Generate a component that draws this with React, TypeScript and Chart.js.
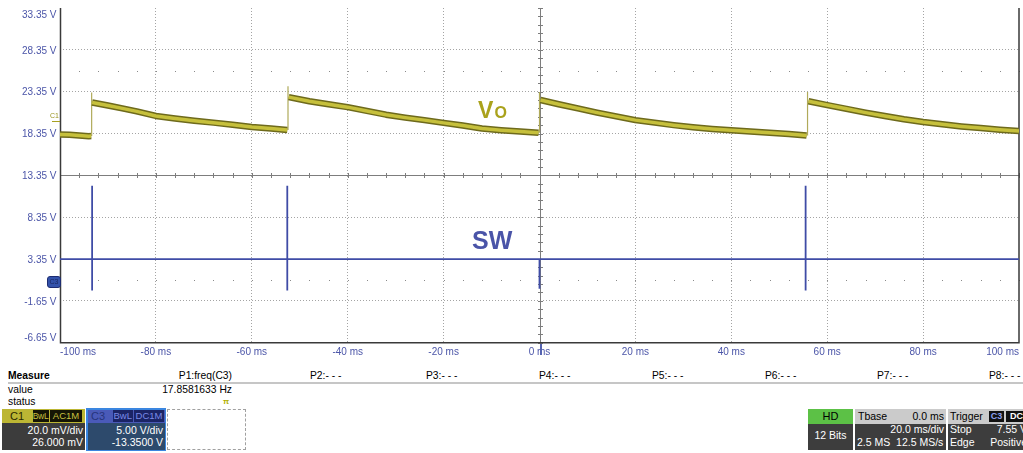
import React, { useEffect, useRef } from "react";
import { Chart, registerables } from "chart.js";
Chart.register(...registerables);

// ---------- data ----------
const xTickValues = [-100, -80, -60, -40, -20, 0, 20, 40, 60, 80, 100];
const yTickValues = [-6.65, -1.65, 3.35, 8.35, 13.35, 18.35, 23.35, 28.35, 33.35];

// Vo (C1) segments between switching events: time (ms) / volts
const voT1 = [-100, -98, -96, -94, -93.5];
const voV1 = [18.22, 18.2, 18.12, 18.02, 18.05];
const voT2 = [-93.3, -90, -87, -84, -80, -76, -72, -68, -64, -60, -56, -52.6];
const voV2 = [22.05, 21.7, 21.35, 21.0, 20.45, 20.15, 19.88, 19.65, 19.4, 19.14, 18.95, 18.78];
const voT3 = [-52.3, -48, -44, -40, -36, -32, -28, -24, -20, -16, -12, -8, -4, -0.2];
const voV3 = [22.7, 22.2, 21.85, 21.5, 21.05, 20.6, 20.25, 19.95, 19.62, 19.3, 18.95, 18.75, 18.6, 18.45];
const voT4 = [0.2, 4, 8, 12, 16, 20, 24, 28, 32, 36, 40, 44, 48, 52, 55.7];
const voV4 = [22.35, 21.85, 21.35, 20.85, 20.4, 19.95, 19.65, 19.35, 19.1, 18.9, 18.75, 18.6, 18.45, 18.3, 18.1];
const voT5 = [56.1, 60, 64, 68, 72, 76, 80, 84, 88, 92, 96, 100];
const voV5 = [22.2, 21.75, 21.3, 20.85, 20.45, 20.05, 19.72, 19.45, 19.2, 19.0, 18.8, 18.65];

// Vo jump edges
const jumpT = [-93.4, -52.45, 0, 55.9];
const jumpLow = [18.05, 18.78, 18.45, 18.1];
const jumpHigh = [23.25, 24.0, 23.3, 23.3];

// SW (C3)
const swBase = 3.35;
const swSpikeT = [-93.3, -52.6, 0, 55.5];
const swSpikeHigh = [12.1, 12.1, 3.35, 12.1];
const swSpikeLow = [-0.4, -0.4, -0.2, -0.4];

const FONT = '"Liberation Sans", Arial, sans-serif';
const LABEL_BLUE = "#4b55a8";

function buildVo() {
  const segs = [
    [voT1, voV1],
    [voT2, voV2],
    [voT3, voV3],
    [voT4, voV4],
    [voT5, voV5],
  ];
  const pts: any[] = [];
  segs.forEach(([ts, vs], i) => {
    if (i > 0) pts.push({ x: (ts[0] + pts[pts.length - 1].x) / 2, y: null });
    ts.forEach((t, j) => pts.push({ x: t, y: vs[j] }));
  });
  return pts;
}

function buildJumps() {
  const pts: any[] = [];
  jumpT.forEach((t, i) => {
    if (i > 0) pts.push({ x: t - 1, y: null });
    pts.push({ x: t, y: jumpLow[i] });
    pts.push({ x: t, y: jumpHigh[i] });
  });
  return pts;
}

function buildSw() {
  const pts: any[] = [{ x: -100, y: swBase }];
  swSpikeT.forEach((t, i) => {
    pts.push({ x: t, y: swBase });
    pts.push({ x: t, y: swSpikeHigh[i] });
    pts.push({ x: t, y: swSpikeLow[i] });
    pts.push({ x: t, y: swBase });
  });
  pts.push({ x: 100, y: swBase });
  return pts;
}

const scopePlugin = {
  id: "scope",
  beforeDatasetsDraw(chart: any) {
    const { ctx, chartArea, scales } = chart;
    const { left, right, top, bottom } = chartArea;
    const xs = scales.x;
    const ys = scales.y;
    const x0 = xs.getPixelForValue(0);
    const yc = ys.getPixelForValue(13.35);
    ctx.save();
    ctx.strokeStyle = "#7d7d7d";
    ctx.lineWidth = 1;
    ctx.beginPath();
    ctx.moveTo(Math.round(x0) + 0.5, top);
    ctx.lineTo(Math.round(x0) + 0.5, bottom);
    ctx.moveTo(left, Math.round(yc) + 0.5);
    ctx.lineTo(right, Math.round(yc) + 0.5);
    for (let k = 0; k <= 40; k++) {
      const py = Math.round(ys.getPixelForValue(-6.65 + k)) + 0.5;
      ctx.moveTo(Math.round(x0) - 2, py);
      ctx.lineTo(Math.round(x0) + 3, py);
    }
    for (let k = 0; k <= 50; k++) {
      const px = Math.round(xs.getPixelForValue(-100 + 4 * k)) + 0.5;
      ctx.moveTo(px, Math.round(yc) - 2);
      ctx.lineTo(px, Math.round(yc) + 3);
    }
    ctx.stroke();
    ctx.fillStyle = "#8a8a8a";
    [25.85, 0.85].forEach((v) => {
      const py = Math.round(ys.getPixelForValue(v));
      for (let k = 0; k <= 50; k++) {
        const px = Math.round(xs.getPixelForValue(-100 + 4 * k));
        ctx.fillRect(px, py, 1, 1);
      }
    });
    ctx.strokeStyle = "#3a3a3a";
    ctx.lineWidth = 1.5;
    ctx.beginPath();
    ctx.moveTo(left + 0.5, top);
    ctx.lineTo(left + 0.5, bottom);
    ctx.lineTo(right, bottom);
    ctx.lineTo(right, top);
    ctx.stroke();
    ctx.restore();
  },
  afterDraw(chart: any) {
    const { ctx, scales } = chart;
    const ys = scales.y;
    ctx.save();
    ctx.font = `10px ${FONT}`;
    ctx.fillStyle = LABEL_BLUE;
    ctx.textAlign = "right";
    ctx.textBaseline = "alphabetic";
    yTickValues.forEach((v) => {
      let b = ys.getPixelForValue(v) + 3.8;
      b = Math.max(b, 18.3);
      b = Math.min(b, 340.7);
      ctx.fillText(`${v.toFixed(2)} V`, 56.5, b);
    });
    ctx.restore();
  },
};

function Txt(props: any) {
  const { x, b, s = 10.4, color = "#000", bold = false, align = "left", children, w, ls } = props;
  const top = b - 0.8465 * s;
  const style: any = {
    position: "absolute",
    top,
    fontSize: s,
    lineHeight: `${s}px`,
    height: s,
    color,
    fontWeight: bold ? "bold" : "normal",
    fontFamily: FONT,
    whiteSpace: "nowrap",
    letterSpacing: ls || 0,
  };
  if (align === "right") {
    style.right = 1023 - x;
  } else if (align === "center") {
    style.left = x;
    style.width = w;
    style.textAlign = "center";
  } else {
    style.left = x;
  }
  return <div style={style}>{children}</div>;
}

function Box(props: any) {
  const { x, y, w, h, bg, children, style } = props;
  return (
    <div style={{ position: "absolute", left: x, top: y, width: w, height: h, background: bg, ...(style || {}) }}>
      {children}
    </div>
  );
}

export default function App() {
  const ref = useRef<HTMLCanvasElement>(null);
  useEffect(() => {
    const vo = buildVo();
    const chart = new Chart(ref.current as HTMLCanvasElement, {
      type: "line",
      data: {
        datasets: [
          {
            data: vo,
            borderColor: "#c6c03c",
            borderWidth: 3.5,
            pointRadius: 0,
            spanGaps: false,
            order: 0,
          },
          {
            data: vo,
            borderColor: "#6e6a1c",
            borderWidth: 6.5,
            pointRadius: 0,
            spanGaps: false,
            borderJoinStyle: "round",
            order: 1,
          },
          {
            data: buildJumps(),
            borderColor: "#b0aa5a",
            borderWidth: 1.2,
            pointRadius: 0,
            spanGaps: false,
            order: 2,
          },
          {
            data: buildSw(),
            borderColor: "#3f4ca6",
            borderWidth: 1.8,
            pointRadius: 0,
            order: 3,
          },
        ] as any,
      },
      options: {
        animation: false,
        responsive: false,
        devicePixelRatio: 1,
        events: [],
        layout: { padding: { top: 8, right: 1.5, left: 0, bottom: 0 } },
        plugins: { legend: { display: false }, tooltip: { enabled: false } },
        elements: { line: { tension: 0 } },
        scales: {
          x: {
            type: "linear",
            min: xTickValues[0],
            max: xTickValues[xTickValues.length - 1],
            afterFit: (a: any) => {
              a.height = 19.3;
            },
            ticks: {
              stepSize: 20,
              align: "inner",
              maxRotation: 0,
              autoSkip: false,
              padding: 4,
              color: LABEL_BLUE,
              font: { family: FONT, size: 10 },
              callback: (v: any) => `${v} ms`,
            },
            grid: {
              drawTicks: false,
              lineWidth: 1,
              color: (c: any) => {
                const v = c.tick ? c.tick.value : 0;
                if (v === 0 || v === -100 || v === 100) return "rgba(0,0,0,0)";
                return "#a4a4a4";
              },
            },
            border: { display: false, dash: [1, 2] },
          },
          y: {
            type: "linear",
            min: yTickValues[0],
            max: yTickValues[yTickValues.length - 1],
            afterFit: (a: any) => {
              a.width = 60;
            },
            ticks: { stepSize: 5, display: false },
            grid: {
              drawTicks: false,
              lineWidth: 1,
              color: (c: any) => {
                const v = c.tick ? c.tick.value : 0;
                if (Math.abs(v - 13.35) < 0.01 || Math.abs(v + 6.65) < 0.01 || Math.abs(v - 33.35) < 0.01)
                  return "rgba(0,0,0,0)";
                return "#a4a4a4";
              },
            },
            border: { display: false, dash: [1, 2] },
          },
        },
      } as any,
      plugins: [scopePlugin],
    });
    return () => chart.destroy();
  }, []);

  const pLabels = ["P2", "P3", "P4", "P5", "P6", "P7", "P8"];
  const pX = [310, 426, 539, 652, 765, 877, 989];

  return (
    <div
      style={{
        position: "fixed",
        left: 0,
        top: 0,
        width: 1023,
        height: 453,
        background: "#fff",
        overflow: "hidden",
        fontFamily: FONT,
      }}
    >
      <canvas ref={ref} width={1023} height={362} style={{ position: "absolute", left: 0, top: 0, width: 1023, height: 362 }} />

      {/* trace labels */}
      <Txt x={478} b={118.3} s={23} color="#aaa21c" bold>V</Txt>
      <Txt x={494.5} b={118.3} s={16} color="#aaa21c" bold>O</Txt>
      <Txt x={472} b={249.3} s={25} color="#4a54a8" bold>SW</Txt>

      {/* channel markers */}
      <Txt x={50} b={118} s={7} color="#9a9420">C1</Txt>
      <Box x={52} y={120.5} w={8} h={1.5} bg="#a8a020" />
      <div
        style={{
          position: "absolute",
          left: 47,
          top: 276,
          width: 12,
          height: 10,
          background: "#3352aa",
          border: "1px solid #1d2c72",
          borderRadius: 3,
          fontSize: 7,
          lineHeight: "10px",
          color: "#1a275f",
          textAlign: "center",
          fontFamily: FONT,
        }}
      >
        C3
      </div>

      {/* trigger position marker */}
      <Box x={540} y={344} w={2} h={11} bg="#5563b0" />

      {/* measure table */}
      <Txt x={8} b={380} s={10.3} bold>Measure</Txt>
      <Txt x={232} b={380} s={10.3} align="right">P1:freq(C3)</Txt>
      {pLabels.map((p, i) => (
        <Txt key={p} x={pX[i]} b={380} s={10.3}>{`${p}:- - -`}</Txt>
      ))}
      <Box x={8} y={382} w={1015} h={2} bg="#c6c6c6" />
      <Txt x={8} b={393.3} s={10.3}>value</Txt>
      <Txt x={232} b={393.3} s={10.3} align="right">17.8581633 Hz</Txt>
      <Txt x={8} b={406} s={10.3}>status</Txt>
      <Txt x={223} b={405} s={8} color="#b2b000" bold>π</Txt>

      {/* C1 descriptor */}
      <Box x={2} y={409} w={83} h={14} bg="#bcb634" />
      <Txt x={10} b={420} s={11} color="#2a2800">C1</Txt>
      <Box x={32.5} y={410} w={16} h={12} bg="#151505" />
      <Txt x={32.5} w={16} b={419.5} s={8.5} ls={-0.3} color="#c8c040" align="center">BwL</Txt>
      <Box x={50} y={410} w={32} h={12} bg="#151505" />
      <Txt x={50} w={32} b={419.5} s={9.5} color="#c8c040" align="center">AC1M</Txt>
      <Box x={2} y={423} w={83} h={27} bg="#3c3c3c" />
      <Txt x={83} b={434} s={10.5} color="#fff" align="right">20.0 mV/div</Txt>
      <Txt x={83} b={445.7} s={10.5} color="#fff" align="right">26.000 mV</Txt>

      {/* C3 descriptor */}
      <Box x={86} y={408} w={80} h={43} bg="#3a86e0" />
      <Box x={87.5} y={409.5} w={77} h={13.5} bg="#4a5ab8" />
      <Txt x={91} b={420} s={11} color="#26347c">C3</Txt>
      <Box x={112.7} y={410} w={20} h={12} bg="#1b2466" />
      <Txt x={112.7} w={20} b={419.5} s={9.5} color="#7a8ae8" align="center">BwL</Txt>
      <Box x={134} y={410} w={30} h={12} bg="#1b2466" />
      <Txt x={134} w={30} b={419.5} s={9.5} color="#7a8ae8" align="center">DC1M</Txt>
      <Box x={87.5} y={423} w={77} h={26.5} bg="#2d4a6c" />
      <Txt x={163} b={434} s={10.5} color="#fff" align="right">5.00 V/div</Txt>
      <Txt x={163} b={445.7} s={10.5} color="#fff" align="right">-13.3500 V</Txt>

      {/* empty slot */}
      <Box x={167} y={409} w={79} h={41} bg="transparent" style={{ border: "1px dashed #a0a0a0", boxSizing: "border-box" }} />

      {/* HD */}
      <Box x={808} y={409} w={45} h={14.5} bg="#5cc146" />
      <Txt x={808} w={45} b={420} s={11} align="center">HD</Txt>
      <Box x={808} y={424} w={45} h={26} bg="#3d3d3d" />
      <Txt x={808} w={45} b={439} s={10.5} color="#fff" align="center">12 Bits</Txt>

      {/* Tbase */}
      <Box x={855} y={409} w={91} h={14.5} bg="#cbcbcb" />
      <Txt x={858} b={420} s={10.5}>Tbase</Txt>
      <Txt x={944} b={420} s={10.5} align="right">0.0 ms</Txt>
      <Box x={855} y={424} w={91} h={26} bg="#3d3d3d" />
      <Txt x={944} b={433.3} s={10.5} color="#fff" align="right">20.0 ms/div</Txt>
      <Txt x={857} b={445.7} s={10.5} color="#fff">2.5 MS&nbsp;&nbsp;12.5 MS/s</Txt>

      {/* Trigger */}
      <Box x={948} y={409} w={80} h={14.5} bg="#cbcbcb" />
      <Txt x={950} b={420} s={10.5}>Trigger</Txt>
      <Box x={989} y={410.5} w={15} h={11} bg="#111" />
      <Txt x={989} w={15} b={419.5} s={9} color="#8fa0f0" align="center" bold>C3</Txt>
      <Box x={1005.5} y={410.5} w={22} h={11} bg="#111" />
      <Txt x={1005.5} w={22} b={419.5} s={9} color="#fff" align="center" bold>DC</Txt>
      <Box x={948} y={424} w={80} h={26} bg="#3d3d3d" />
      <Txt x={950} b={433.3} s={10.5} color="#fff">Stop</Txt>
      <Txt x={1027} b={433.3} s={10.5} color="#fff" align="right">7.55 V</Txt>
      <Txt x={950} b={445.7} s={10.5} color="#fff">Edge</Txt>
      <Txt x={1027} b={445.7} s={10.5} color="#fff" align="right">Positive</Txt>
    </div>
  );
}
